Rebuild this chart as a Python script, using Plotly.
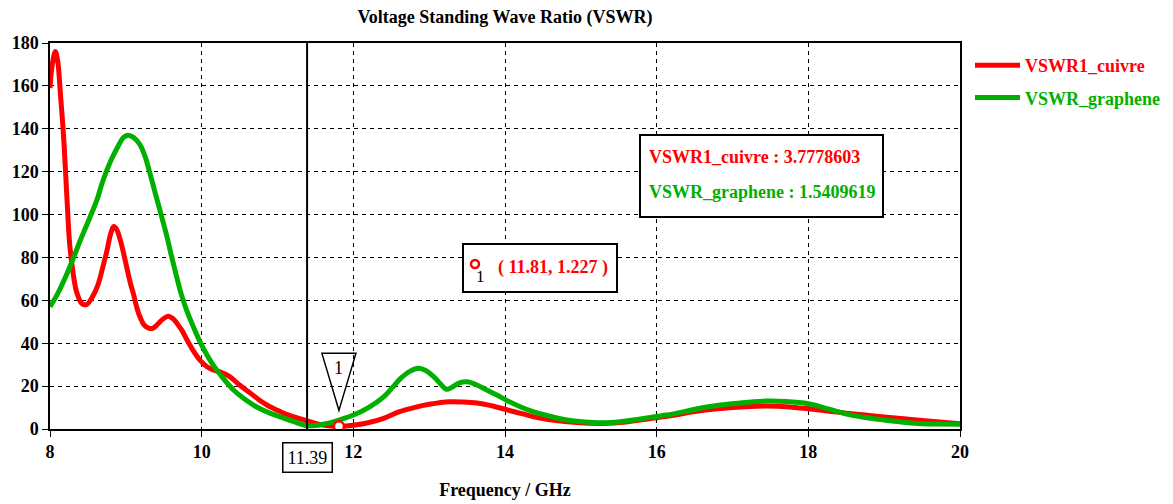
import plotly.graph_objects as go

# VSWR of the copper antenna
freq_cuivre = [8.0, 8.03, 8.07, 8.1, 8.14, 8.18, 8.22, 8.26, 8.3, 8.35, 8.42, 8.48, 8.55, 8.63,
               8.7, 8.75, 8.8, 8.84, 8.88, 8.92, 8.97, 9.01, 9.06, 9.1, 9.15, 9.19, 9.24, 9.3,
               9.36, 9.41, 9.48, 9.56, 9.62, 9.68, 9.74, 9.8, 9.88, 9.98, 10.07, 10.15, 10.25,
               10.37, 10.5, 10.64, 10.75, 10.86, 11.0, 11.1, 11.25, 11.39, 11.5, 11.6, 11.7,
               11.81, 12.0, 12.18, 12.4, 12.6, 12.8, 13.0, 13.27, 13.45, 13.63, 13.85, 14.03,
               14.25, 14.46, 14.7, 14.95, 15.3, 15.6, 15.9, 16.2, 16.57, 17.0, 17.45, 17.75,
               18.0, 18.25, 18.5, 18.75, 19.0, 19.5, 20.0]
vswr_cuivre = [159, 170, 176, 172, 155, 136, 110, 86, 74, 64, 58.5, 58, 61, 67,
               76, 83, 91, 94.4, 93, 89, 82, 75.7, 68, 63, 56, 52, 48.5, 47,
               47, 48.5, 51, 52.6, 51.5, 49, 46, 42, 37, 32, 29, 27.5, 26.5,
               24.4, 20.5, 16.8, 13.8, 11.2, 8.7, 7.1, 5.3, 3.7778603, 2.6, 1.8, 1.4,
               1.227, 1.7, 2.8, 5, 8, 10, 11.5, 12.7, 12.6, 12.1, 10.6, 8.9,
               6.9, 5.1, 3.8, 3.0, 2.6, 3.3, 4.8, 6.3, 8.5, 10.0, 10.7, 10.3,
               9.4, 8.4, 7.4, 6.5, 5.6, 4.0, 2.5]

# VSWR of the graphene antenna
freq_graphene = [8.0, 8.1, 8.2, 8.3, 8.4, 8.53, 8.62, 8.7, 8.8, 8.9, 8.97, 9.03, 9.1, 9.18,
                 9.25, 9.32, 9.38, 9.45, 9.54, 9.6, 9.67, 9.73, 9.8, 9.91, 9.98, 10.07, 10.15,
                 10.28, 10.42, 10.57, 10.72, 10.9, 11.08, 11.25, 11.39, 11.5, 11.6, 11.7,
                 11.85, 12.0, 12.2, 12.4, 12.52, 12.62, 12.75, 12.86, 12.96, 13.06, 13.15,
                 13.23, 13.3, 13.4, 13.5, 13.6, 13.76, 13.9, 14.03, 14.2, 14.37, 14.6, 14.82,
                 15.05, 15.25, 15.45, 15.69, 15.9, 16.13, 16.35, 16.57, 16.8, 17.0, 17.25,
                 17.45, 17.7, 18.0, 18.2, 18.4, 18.55, 18.75, 19.0, 19.25, 19.5, 19.75, 20.0]
vswr_graphene = [57, 63, 70.5, 79, 88, 99, 107, 116, 125, 132, 136, 137, 136, 133,
                 127.5, 119, 111, 102, 90, 81, 71, 63, 55.5, 46, 40.5, 34.5, 29.9,
                 23.8, 18.2, 13.9, 10.4, 7.4, 5.1, 3.0, 1.5409619, 1.6, 2.2, 3,
                 4.6, 6.5, 10, 15, 19.5, 23.5, 27, 28.3, 27.2, 24.4, 21,
                 18.5, 19.5, 21.5, 22, 21, 18.2, 15.7, 13.2, 10.4, 8.1, 5.9, 4.2,
                 3.3, 2.9, 3.2, 4.2, 5.3, 6.5, 8.0, 9.7, 11.0, 11.8, 12.6,
                 13, 12.8, 11.8, 10.0, 8.0, 6.6, 5.4, 4.2, 3.2, 2.5, 2.3, 2.2]

x_ticks = [8, 10, 12, 14, 16, 18, 20]
y_ticks = [0, 20, 40, 60, 80, 100, 120, 140, 160, 180]

cursor_f = 11.39
cursor_cuivre = 3.7778603
cursor_graphene = 1.5409619
marker_f = 11.81
marker_v = 1.227

RED = "#ff0000"
GREEN = "#00b000"
SERIF = "Liberation Serif"

fig = go.Figure()
fig.add_trace(go.Scatter(
    x=freq_cuivre, y=vswr_cuivre, mode="lines", line=dict(color=RED, width=5, shape="spline"),
    name=f"<span style='color:{RED}'>VSWR1_cuivre</span>", legendgroup="a"))
fig.add_trace(go.Scatter(
    x=freq_graphene, y=vswr_graphene, mode="lines", line=dict(color=GREEN, width=5, shape="spline"),
    name=f"<span style='color:{GREEN}'>VSWR_graphene</span>", legendgroup="b"))
# marker point 1
fig.add_trace(go.Scatter(
    x=[marker_f], y=[marker_v], mode="markers", showlegend=False,
    marker=dict(symbol="circle", size=10, color="white", line=dict(color=RED, width=2.5))))

L, R, T, B = 50, 213, 43, 75
W, H = 1173, 504
PW, PH = W - L - R, H - T - B


def px(x):
    return (x - L) / PW


def py(y):
    return (H - B - y) / PH


shapes = [
    # cursor line
    dict(type="line", xref="x", yref="y", x0=cursor_f, x1=cursor_f, y0=0, y1=180,
         line=dict(color="black", width=2)),
    # marker triangle
    dict(type="path", xref="x", yref="y", xsizemode="pixel", ysizemode="pixel",
         xanchor=marker_f, yanchor=marker_v, path="M -17,73 L 17,73 L 0,16 Z",
         line=dict(color="black", width=1.5)),
    # marker readout box
    dict(type="rect", xref="paper", yref="paper", x0=px(463), x1=px(617), y0=py(292), y1=py(244),
         line=dict(color="black", width=2), fillcolor="white", layer="above"),
    dict(type="circle", xref="paper", yref="paper", x0=px(471), x1=px(479), y0=py(268), y1=py(260),
         line=dict(color=RED, width=2.5), fillcolor="white", layer="above"),
    # cursor readout box
    dict(type="rect", xref="paper", yref="paper", x0=px(640), x1=px(883), y0=py(217), y1=py(135),
         line=dict(color="black", width=2), fillcolor="white", layer="above"),
]

annotations = [
    dict(x=marker_f, y=marker_v, xref="x", yref="y", yshift=58, text="1", showarrow=False,
         font=dict(family=SERIF, size=18, color="black")),
    dict(x=cursor_f, y=py(457), xref="x", yref="paper", yanchor="middle", text=f"{cursor_f:.2f}",
         showarrow=False, font=dict(family=SERIF, size=18, color="black"), bordercolor="black",
         borderwidth=1.5, borderpad=4, bgcolor="white"),
    dict(x=px(480), y=py(276), xref="paper", yref="paper", xanchor="center", yanchor="middle",
         text="1", showarrow=False, font=dict(family=SERIF, size=17, color="black")),
    dict(x=px(553), y=py(267), xref="paper", yref="paper", xanchor="center", yanchor="middle",
         text=f"( {marker_f}, {marker_v} )", showarrow=False,
         font=dict(family=SERIF, size=18, color=RED, weight="bold")),
    dict(x=px(647), y=py(157), xref="paper", yref="paper", xanchor="left", yanchor="middle",
         text=f"VSWR1_cuivre : {cursor_cuivre}", showarrow=False,
         font=dict(family=SERIF, size=18, color=RED, weight="bold")),
    dict(x=px(647), y=py(192), xref="paper", yref="paper", xanchor="left", yanchor="middle",
         text=f"VSWR_graphene : {cursor_graphene}", showarrow=False,
         font=dict(family=SERIF, size=18, color=GREEN, weight="bold")),
]

axis_common = dict(
    showline=True, linecolor="black", linewidth=1.5, mirror=True,
    showgrid=True, gridcolor="black", gridwidth=1, griddash="4px,4px",
    ticks="outside", ticklen=6, tickcolor="black", zeroline=False,
    tickfont=dict(family=SERIF, size=18, color="black", weight="bold"),
)

fig.update_layout(
    width=W, height=H,
    margin=dict(l=L, r=R, t=T, b=B, autoexpand=False),
    paper_bgcolor="white", plot_bgcolor="white",
    title=dict(text="Voltage Standing Wave Ratio (VSWR)", x=0.5, xref="paper",
               y=1 - 17 / H, yref="container", yanchor="middle",
               font=dict(family=SERIF, size=18, color="black", weight="bold")),
    xaxis=dict(range=[8, 20], tickvals=x_ticks,
               title=dict(text="Frequency / GHz", standoff=22,
                          font=dict(family=SERIF, size=18, color="black", weight="bold")),
               **axis_common),
    yaxis=dict(range=[0, 180], tickvals=y_ticks, **axis_common),
    legend=dict(x=px(970), xanchor="left", y=py(47), yanchor="top",
                traceorder="grouped", tracegroupgap=6, itemwidth=45,
                font=dict(family=SERIF, size=18, weight="bold"), bgcolor="rgba(0,0,0,0)"),
    shapes=shapes,
    annotations=annotations,
)

fig.write_html("out.html")
